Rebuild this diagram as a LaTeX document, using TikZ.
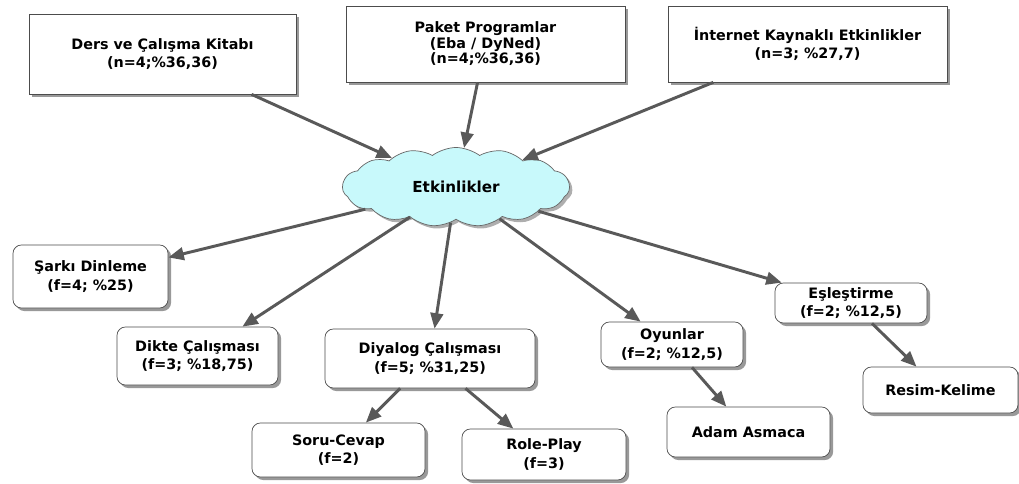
\documentclass[tikz,border=0pt]{standalone}
\usepackage{fontspec}
\setmainfont{DejaVu Sans}
\usepackage{tikz}
\usetikzlibrary{shapes,shapes.symbols,arrows.meta,positioning,shadows}

\definecolor{arrowgrey}{HTML}{595959}
\definecolor{cloudfill}{HTML}{C8F9FB}

\tikzset{
  txt/.style={font=\fontsize{10.2}{13}\selectfont\bfseries, align=center},
  topbox/.style={txt, draw=black!70, fill=white, line width=0.5pt, inner sep=0pt,
    drop shadow={shadow xshift=2.2pt, shadow yshift=-2.2pt, fill=black!50, opacity=0.8}},
  subbox/.style={topbox, rounded corners=6pt},
  hub/.style={txt, font=\fontsize{10.8}{13}\selectfont\bfseries,
    cloud, cloud puffs=15, cloud puff arc=75, cloud ignores aspect,
    draw=black!60, fill=cloudfill, line width=0.5pt, inner sep=0pt,
    drop shadow={shadow xshift=2pt, shadow yshift=-2pt, fill=black!45, opacity=0.7}},
  link/.style={draw=arrowgrey, line width=2.1pt, -{Triangle[length=11pt, width=9pt]}},
}

\begin{document}
\begin{tikzpicture}[x=0.025cm, y=-0.025cm]
    \useasboundingbox (0,0) rectangle (1019,484);

    % Sources
    \node[topbox, minimum width=6.675cm, minimum height=2.0cm] (ders) at (162.5,54)
        {Ders ve Çalışma Kitabı\\(n=4;\%36,36)};
    \node[topbox, minimum width=6.975cm, minimum height=1.9cm,
          font=\fontsize{10.2}{11}\selectfont\bfseries] (paket) at (485.5,44)
        {Paket Programlar\\(Eba / DyNed)\\(n=4;\%36,36)};
    \node[topbox, minimum width=6.975cm, minimum height=1.9cm] (internet) at (807.5,44)
        {İnternet Kaynaklı Etkinlikler\\(n=3; \%27,7)};

    % Hub
    \node[hub, minimum width=5.675cm, minimum height=1.975cm] (etk) at (456,187) {Etkinlikler};

    % Activities
    \node[subbox, minimum width=3.875cm, minimum height=1.575cm] (sarki) at (90.5,276.5)
        {Şarkı Dinleme\\(f=4; \%25)};
    \node[subbox, minimum width=4.025cm, minimum height=1.45cm] (dikte) at (197.5,356)
        {Dikte Çalışması\\(f=3; \%18,75)};
    \node[subbox, minimum width=5.25cm, minimum height=1.475cm] (diyalog) at (430,358.5)
        {Diyalog Çalışması\\(f=5; \%31,25)};
    \node[subbox, minimum width=3.55cm, minimum height=1.125cm] (oyun) at (672,344.5)
        {Oyunlar\\(f=2; \%12,5)};
    \node[subbox, minimum width=3.8cm, minimum height=1.0cm] (esles) at (851,303)
        {Eşleştirme\\(f=2; \%12,5)};

    % Sub-activities
    \node[subbox, minimum width=4.325cm, minimum height=1.35cm] (soru) at (338.5,450)
        {Soru-Cevap\\(f=2)};
    \node[subbox, minimum width=4.1cm, minimum height=1.275cm] (role) at (544,454.5)
        {Role-Play\\(f=3)};
    \node[subbox, minimum width=4.075cm, minimum height=1.25cm] (adam) at (748.5,432)
        {Adam Asmaca};
    \node[subbox, minimum width=3.875cm, minimum height=1.15cm] (resim) at (940.5,390)
        {Resim-Kelime};

    % Links
    \foreach \src in {ders,paket,internet}
        \draw[link] (\src) -- (etk);
    \foreach \dst in {sarki,dikte,diyalog,oyun,esles}
        \draw[link] (etk) -- (\dst);
    \draw[link] (diyalog) -- (soru);
    \draw[link] (diyalog) -- (role);
    \draw[link] (oyun) -- (adam);
    \draw[link] (esles) -- (resim);

\end{tikzpicture}
\end{document}
